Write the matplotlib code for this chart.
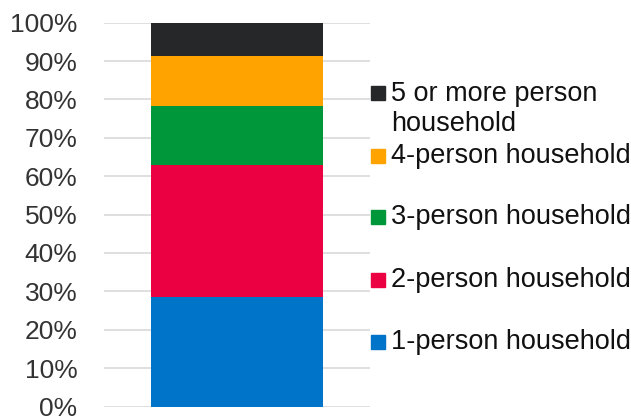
import matplotlib.pyplot as plt
from matplotlib.patches import Rectangle
import numpy as np

plt.rcParams['font.family'] = ['Liberation Sans', 'DejaVu Sans']

categories = ['1-person household', '2-person household', '3-person household',
              '4-person household', '5 or more person\nhousehold']
shares = [28.6, 34.4, 15.3, 13.0, 8.7]
colors = ['#0074C8', '#EB0042', '#00963A', '#FFA300', '#262729']
yticks = np.arange(0, 101, 10)
ytick_labels = [f'{v}%' for v in yticks]

# legend row centres in pixels (layout only)
legend_y = [342, 280, 217, 156, 93]

W, H = 631, 418
fig = plt.figure(figsize=(W / 100, H / 100), dpi=100)
ax = fig.add_axes([104 / W, 1 - 406.5 / H, 266 / W, (406.5 - 22.7) / H])

bottom = 0
for val, col in zip(shares, colors):
    ax.bar(0, val, width=0.65, bottom=bottom, color=col, zorder=2)
    bottom += val

ax.set_xlim(-0.5, 0.5)
ax.set_ylim(0, 100)
ax.set_yticks(yticks)
ax.set_yticklabels(ytick_labels)
ax.set_xticks([])
ax.tick_params(axis='y', length=0, pad=19, labelsize=19, labelcolor='#333333')
ax.grid(axis='y', color='#d9d9d9', linewidth=1.2, zorder=0)
for s in ax.spines.values():
    s.set_visible(False)

# legend drawn by hand so the wrapped label sits like the original
for cat, col, yc in zip(categories, colors, legend_y):
    fig.add_artist(Rectangle((371 / W, 1 - (yc + 7) / H), 14 / W, 14 / H,
                             transform=fig.transFigure, color=col))
    if '\n' in cat:
        fig.text(391 / W, 1 - (yc + 16) / H, cat, fontsize=19.5, color='#111111',
                 va='center', ha='left', linespacing=1.18)
    else:
        fig.text(391 / W, 1 - yc / H, cat, fontsize=19.5, color='#111111',
                 va='center', ha='left')

fig.savefig('out.png', dpi=100)
